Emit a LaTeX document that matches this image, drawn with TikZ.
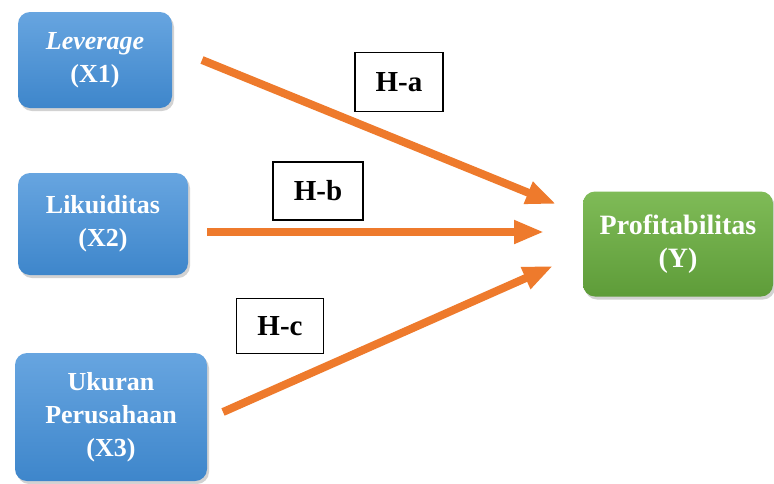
\documentclass[tikz,border=0pt]{standalone}
\usepackage{fontspec}
\setmainfont{Liberation Serif}
\usetikzlibrary{arrows.meta,shadows}
\definecolor{blueTop}{HTML}{67A5E0}
\definecolor{blueBot}{HTML}{3E86CB}
\definecolor{greenTop}{HTML}{7FBB57}
\definecolor{greenBot}{HTML}{5E9C39}
\definecolor{arrowOrange}{HTML}{EE7A2C}
\tikzset{
  varbox/.style={rounded corners=12pt, draw=none, align=center, text=white,
    font=\bfseries\fontsize{26}{33}\selectfont, inner sep=0pt,
    drop shadow={opacity=0.35, shadow xshift=2pt, shadow yshift=-3pt}},
  xbox/.style={varbox, top color=blueTop, bottom color=blueBot},
  ybox/.style={varbox, top color=greenTop, bottom color=greenBot,
    font=\bfseries\fontsize{28}{33}\selectfont},
  hyp/.style={draw=black, line width=1.2pt, fill=white, inner sep=0pt,
    font=\bfseries\fontsize{29}{30}\selectfont},
  link/.style={draw=arrowOrange, line width=8pt,
    -{Triangle[length=30pt,width=22pt]}}
}
\begin{document}
\begin{tikzpicture}[x=1pt,y=-1pt]
\useasboundingbox (0,0) rectangle (774,483);
\fill[white] (0,0) rectangle (774,483);

% independent variables
\node[xbox, minimum width=154pt, minimum height=96pt] (x1) at (95,60)
  {\textit{Leverage}\\(X1)};
\node[xbox, minimum width=170pt, minimum height=102pt] (x2) at (103,224)
  {Likuiditas\\(X2)};
\node[xbox, minimum width=192pt, minimum height=128pt] (x3) at (111,417)
  {Ukuran\\Perusahaan\\(X3)};

% dependent variable
\node[ybox, minimum width=190pt, minimum height=105pt] (y) at (678,244)
  {Profitabilitas\\(Y)};

% arrow end points
\coordinate (a0) at (202,60);
\coordinate (a1) at (556,204);
\coordinate (b0) at (207,232);
\coordinate (b1) at (544,232);
\coordinate (c0) at (223,412);
\coordinate (c1) at (553,266);

\draw[link] (a0) -- (a1);
\draw[link] (b0) -- (b1);
\draw[link] (c0) -- (c1);

% hypothesis labels
\node[hyp, minimum width=88pt, minimum height=59pt] (ha) at (399,82) {H-a};
\node[hyp, minimum width=90pt, minimum height=58pt] (hb) at (318,191) {H-b};
\node[hyp, minimum width=87pt, minimum height=55pt] (hc) at (280,326) {H-c};
\end{tikzpicture}
\end{document}
